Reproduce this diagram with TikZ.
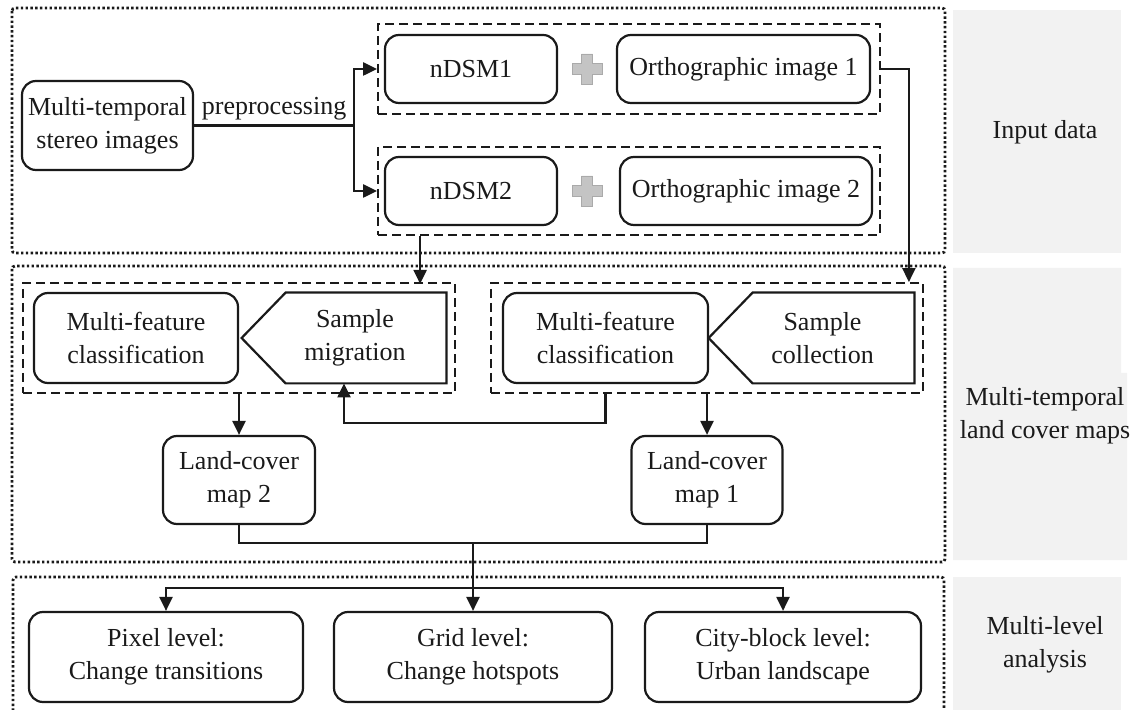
\documentclass[tikz,border=0pt]{standalone}
\usepackage{fontspec}
\setmainfont{Liberation Serif}
\usetikzlibrary{arrows.meta,calc}
\definecolor{LCInk}{HTML}{1A1A1A}
\definecolor{LCPanel}{HTML}{F2F2F2}
\definecolor{LCPlus}{HTML}{C4C4C4}
\definecolor{LCPlusEdge}{HTML}{AAAAAA}
\tikzset{
  lcbox/.style={draw=LCInk, line width=1.1pt, rounded corners=7pt, align=center, inner sep=0pt, text=LCInk},
  lcgroup/.style={draw=LCInk, line width=0.9pt, dash pattern=on 4.5pt off 2.5pt, inner sep=0pt},
  lczone/.style={draw=LCInk, line width=1.4pt, dash pattern=on 1.2pt off 1.2pt, rounded corners=1.5pt},
  lctext/.style={align=center, inner sep=0pt, text=LCInk},
  lcline/.style={draw=LCInk, line width=1.1pt},
  lcarrow/.style={lcline, -{Triangle[length=7pt,width=6.5pt]}},
  lcplus/.pic={
    \fill[LCPlus, draw=LCPlusEdge, line width=0.4pt]
      (-5.5,-15) -- (5.5,-15) -- (5.5,-5.5) -- (15,-5.5) -- (15,5.5) -- (5.5,5.5)
      -- (5.5,15) -- (-5.5,15) -- (-5.5,5.5) -- (-15,5.5) -- (-15,-5.5) -- (-5.5,-5.5) -- cycle;
  },
}

\begin{document}
\begin{tikzpicture}[x=0.5pt, y=-0.5pt, font=\fontsize{13}{16.5}\selectfont]
  \useasboundingbox (0,0) rectangle (1133,710);
  % side panels
  \fill[LCPanel] (953,10) rectangle (1121,253);
  \fill[LCPanel] (953,268) -- (1121,268) -- (1121,373) -- (1127,373) -- (1127,560) -- (953,560) -- cycle;
  \fill[LCPanel] (953,577) rectangle (1121,720);
  \node[lctext] (inLbl) at (1045,132) {Input data};
  \node[lctext] (mapLbl) at (1045,416) {Multi-temporal\\land cover maps};
  \node[lctext] (anaLbl) at (1045,645) {Multi-level\\analysis};

  % stage frames
  \draw[lczone] (12,8) rectangle (945,253);
  \draw[lczone] (12,266) rectangle (945,562);
  \draw[lczone] (13,730) -- (13,577) -- (944,577) -- (944,730);

  % input data
  \node[lcbox, minimum width=85.5pt, minimum height=44.5pt] (stereo) at (107.5,125.5) {Multi-temporal\\stereo images};
  \node[lcgroup, minimum width=251pt, minimum height=45pt] (grpA) at (629,69) {};
  \node[lcgroup, minimum width=251pt, minimum height=44pt] (grpB) at (629,191) {};
  \node[lcbox, minimum width=86pt, minimum height=34pt] (ndsmA) at (471,69) {nDSM1};
  \node[lcbox, minimum width=86pt, minimum height=34pt] (ndsmB) at (471,191) {nDSM2};
  \node[lcbox, minimum width=126.5pt, minimum height=34pt] (orthoA) at (743.5,69) {Orthographic image 1};
  \node[lcbox, minimum width=126pt, minimum height=34pt] (orthoB) at (746,191) {Orthographic image 2};
  \pic (plusA) at (587,69) {lcplus};
  \pic (plusB) at (587,191) {lcplus};

  \coordinate (split) at (354,125.5);
  \draw[lcline] (stereo.east) -- node[lctext, above=2pt] (prep) {preprocessing} (split);
  \draw[lcarrow] (split) |- (grpA.west);
  \draw[lcarrow] (split) |- (grpB.west);

  % land cover maps
  \node[lcgroup, minimum width=216pt, minimum height=55pt] (grpL) at (239,338) {};
  \node[lcgroup, minimum width=216pt, minimum height=55pt] (grpR) at (707,338) {};
  \node[lcbox, minimum width=102pt, minimum height=45pt] (featL) at (136,338) {Multi-feature\\classification};
  \node[lcbox, minimum width=102.5pt, minimum height=45pt] (featR) at (605.5,338) {Multi-feature\\classification};
  \node[minimum width=102pt, minimum height=45pt, inner sep=0pt] (migr) at (344,338) {};
  \node[minimum width=102.5pt, minimum height=45pt, inner sep=0pt] (coll) at (811.5,338) {};
  \foreach \p in {migr,coll}
    \draw[lcline] (\p.north east) -- ([xshift=22pt]\p.north west) -- (\p.west)
      -- ([xshift=22pt]\p.south west) -- (\p.south east) -- cycle;
  \node[lctext] (migrTxt) at ([xshift=5.5pt]migr.center) {Sample\\migration};
  \node[lctext] (collTxt) at ([xshift=5.5pt]coll.center) {Sample\\collection};
  \node[lcbox, minimum width=76pt, minimum height=44pt] (mapB) at (239,480) {Land-cover\\map 2};
  \node[lcbox, minimum width=75.5pt, minimum height=44pt] (mapA) at (707,480) {Land-cover\\map 1};

  \draw[lcarrow] ([xshift=21.5pt]grpB.south west) -- ++(0,48);
  \draw[lcarrow] (grpA.east) -| ([xshift=-7.5pt]grpR.north east);
  \draw[lcarrow] (featR.south |- grpR.south) -- ++(0,29) -| (migr.south);
  \draw[lcarrow] (grpL.south) -- (mapB.north);
  \draw[lcarrow] (grpR.south) -- (mapA.north);

  % merge and fork
  \draw[lcline] (mapB.south) -- ++(0,18) -| (mapA.south);
  \coordinate (merge) at ($(mapB.south)!0.5!(mapA.south)+(0,18)$);
  \draw[lcline] (merge) -- ++(0,45) coordinate (fork);

  % multi-level analysis
  \node[lcbox, minimum width=137pt, minimum height=45pt] (lvlA) at (166,657) {Pixel level:\\Change transitions};
  \node[lcbox, minimum width=139pt, minimum height=45pt] (lvlB) at (473,657) {Grid level:\\Change hotspots};
  \node[lcbox, minimum width=138pt, minimum height=45pt] (lvlC) at (783,657) {City-block level:\\Urban landscape};
  \draw[lcarrow] (fork) -| (lvlA.north);
  \draw[lcarrow] (fork) -- (lvlB.north);
  \draw[lcarrow] (fork) -| (lvlC.north);
\end{tikzpicture}
\end{document}
